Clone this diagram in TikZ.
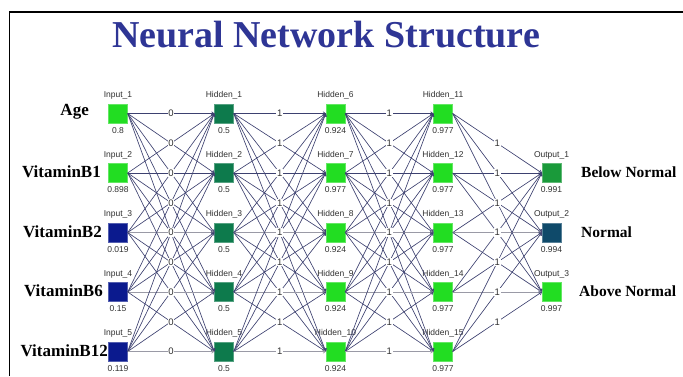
\documentclass[tikz,border=0pt]{standalone}
\usepackage{fontspec}
\setmainfont{Liberation Serif}
\setsansfont{Liberation Sans}
\usetikzlibrary{arrows.meta}

\definecolor{titleblue}{HTML}{2E3595}
\definecolor{brightgreen}{HTML}{22DD22}
\definecolor{darkgreen}{HTML}{0D7A4C}
\definecolor{inblue}{HTML}{0B1A8E}
\definecolor{outgreen}{HTML}{1A9A3A}
\definecolor{outteal}{HTML}{0F4A6A}
\definecolor{edgedark}{HTML}{3D4170}
\definecolor{edgegray}{HTML}{9A9AA6}
\definecolor{tagtext}{HTML}{303030}

\tikzset{
  neuron/.style={draw=#1!70!white, fill=#1, minimum size=19pt, inner sep=0pt},
  tag/.style={font=\sffamily\fontsize{8.5}{9}\selectfont, text=tagtext, inner sep=1pt, label distance=3pt},
  side/.style={font=\bfseries\fontsize{17}{18}\selectfont, text=black, inner sep=0pt},
  link/.style={draw=#1, line width=0.65pt, -{To[length=3pt,width=4pt]}},
  weight/.style={font=\sffamily\fontsize{9.5}{10}\selectfont, text=tagtext, fill=white, inner sep=0.8pt}
}

\begin{document}
\begin{tikzpicture}[x=1pt, y=-1pt]
    \useasboundingbox (0,0) rectangle (683,376);
    \draw[line width=1.6pt] (9.5,376) -- (9.5,12) -- (683,12);

    \node[font=\bfseries\fontsize{38}{40}\selectfont, text=titleblue, anchor=base] (title) at (326,47) {Neural Network Structure};

    % input layer
    \node[neuron=brightgreen, label={[tag]above:Input\_1}, label={[tag]below:0.8}] (in1) at (118,113.5) {};
    \node[neuron=brightgreen, label={[tag]above:Input\_2}, label={[tag]below:0.898}] (in2) at (118,173) {};
    \node[neuron=inblue, label={[tag]above:Input\_3}, label={[tag]below:0.019}] (in3) at (118,232.5) {};
    \node[neuron=inblue, label={[tag]above:Input\_4}, label={[tag]below:0.15}] (in4) at (118,292) {};
    \node[neuron=inblue, label={[tag]above:Input\_5}, label={[tag]below:0.119}] (in5) at (118,351.5) {};

    % hidden layers
    \node[neuron=darkgreen, label={[tag]above:Hidden\_1}, label={[tag]below:0.5}] (h1) at (224,113.5) {};
    \node[neuron=darkgreen, label={[tag]above:Hidden\_2}, label={[tag]below:0.5}] (h2) at (224,173) {};
    \node[neuron=darkgreen, label={[tag]above:Hidden\_3}, label={[tag]below:0.5}] (h3) at (224,232.5) {};
    \node[neuron=darkgreen, label={[tag]above:Hidden\_4}, label={[tag]below:0.5}] (h4) at (224,292) {};
    \node[neuron=darkgreen, label={[tag]above:Hidden\_5}, label={[tag]below:0.5}] (h5) at (224,351.5) {};

    \node[neuron=brightgreen, label={[tag]above:Hidden\_6}, label={[tag]below:0.924}] (h6) at (335.5,113.5) {};
    \node[neuron=brightgreen, label={[tag]above:Hidden\_7}, label={[tag]below:0.977}] (h7) at (335.5,173) {};
    \node[neuron=brightgreen, label={[tag]above:Hidden\_8}, label={[tag]below:0.924}] (h8) at (335.5,232.5) {};
    \node[neuron=brightgreen, label={[tag]above:Hidden\_9}, label={[tag]below:0.924}] (h9) at (335.5,292) {};
    \node[neuron=brightgreen, label={[tag]above:Hidden\_10}, label={[tag]below:0.924}] (h10) at (335.5,351.5) {};

    \node[neuron=brightgreen, label={[tag]above:Hidden\_11}, label={[tag]below:0.977}] (h11) at (443,113.5) {};
    \node[neuron=brightgreen, label={[tag]above:Hidden\_12}, label={[tag]below:0.977}] (h12) at (443,173) {};
    \node[neuron=brightgreen, label={[tag]above:Hidden\_13}, label={[tag]below:0.977}] (h13) at (443,232.5) {};
    \node[neuron=brightgreen, label={[tag]above:Hidden\_14}, label={[tag]below:0.977}] (h14) at (443,292) {};
    \node[neuron=brightgreen, label={[tag]above:Hidden\_15}, label={[tag]below:0.977}] (h15) at (443,351.5) {};

    % output layer
    \node[neuron=outgreen, label={[tag]above:Output\_1}, label={[tag]below:0.991}] (out1) at (551.5,173) {};
    \node[neuron=outteal, label={[tag]above:Output\_2}, label={[tag]below:0.994}] (out2) at (551.5,232.5) {};
    \node[neuron=brightgreen, label={[tag]above:Output\_3}, label={[tag]below:0.997}] (out3) at (551.5,292) {};

    % names of inputs and outputs
    \node[side, anchor=east] (nAge) at (89,112) {Age};
    \node[side, anchor=east] (nB1) at (101,172) {VitaminB1};
    \node[side, anchor=east] (nB2) at (102,232) {VitaminB2};
    \node[side, anchor=east] (nB6) at (103,291) {VitaminB6};
    \node[side, anchor=east] (nB12) at (108,351) {VitaminB12};
    \node[side, font=\bfseries\fontsize{15.5}{16}\selectfont, anchor=west] (nBelow) at (581,172) {Below Normal};
    \node[side, font=\bfseries\fontsize{15.5}{16}\selectfont, anchor=west] (nNormal) at (581,232) {Normal};
    \node[side, font=\bfseries\fontsize{15.5}{16}\selectfont, anchor=west] (nAbove) at (579,291) {Above Normal};

    % connections
    \foreach \i in {1,...,5}
      \foreach \j in {1,...,5} {
        \pgfmathtruncatemacro\ha{\i+5}
        \pgfmathtruncatemacro\hb{\j+5}
        \pgfmathtruncatemacro\hd{\j+10}
        \ifnum\i=\j
          \ifnum\i<3 \def\ec{edgedark}\else\def\ec{edgegray}\fi
        \else
          \def\ec{edgedark}
        \fi
        \draw[link=\ec] (in\i.east) -- (h\j.west);
        \draw[link=\ec] (h\i.east) -- (h\hb.west);
        \draw[link=\ec] (h\ha.east) -- (h\hd.west);
      }
    \foreach \i in {1,...,5}
      \foreach \j in {1,2,3} {
        \pgfmathtruncatemacro\hc{\i+10}
        \pgfmathtruncatemacro\jj{\j+1}
        \ifnum\i=\jj
          \ifnum\i<3 \def\ec{edgedark}\else\def\ec{edgegray}\fi
        \else
          \def\ec{edgedark}
        \fi
        \draw[link=\ec] (h\hc.east) -- (out\j.west);
      }

    % weights
    \foreach \i in {1,...,5}
      \foreach \j in {1,...,5} {
        \pgfmathtruncatemacro\ha{\i+5}
        \pgfmathtruncatemacro\hb{\j+5}
        \pgfmathtruncatemacro\hd{\j+10}
        \path (in\i.east) -- node[weight] {0} (h\j.west);
        \path (h\i.east) -- node[weight] {1} (h\hb.west);
        \path (h\ha.east) -- node[weight] {1} (h\hd.west);
      }
    \foreach \i in {1,...,5}
      \foreach \j in {1,2,3} {
        \pgfmathtruncatemacro\hc{\i+10}
        \path (h\hc.east) -- node[weight] {1} (out\j.west);
      }
\end{tikzpicture}
\end{document}
